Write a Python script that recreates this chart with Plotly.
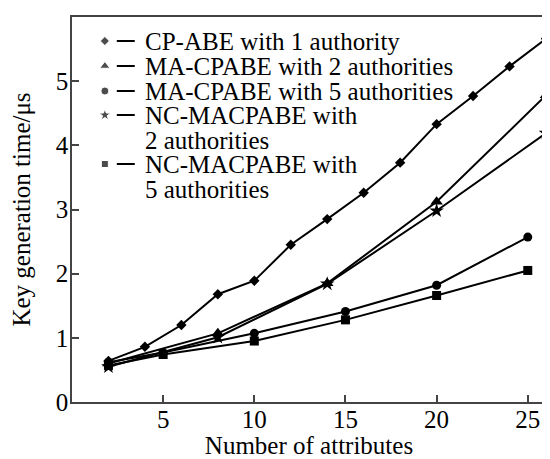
import plotly.graph_objects as go

# ---------------- data ----------------
series_names = [
    "CP-ABE with 1 authority",
    "MA-CPABE with 2 authorities",
    "MA-CPABE with 5 authorities",
    "NC-MACPABE with 2 authorities",
    "NC-MACPABE with 5 authorities",
]
legend_lines = [
    ["CP-ABE with 1 authority"],
    ["MA-CPABE with 2 authorities"],
    ["MA-CPABE with 5 authorities"],
    ["NC-MACPABE with", "2 authorities"],
    ["NC-MACPABE with", "5 authorities"],
]

cp_abe_x = [2, 4, 6, 8, 10, 12, 14, 16, 18, 20, 22, 24, 26]
cp_abe_y = [0.64, 0.86, 1.20, 1.68, 1.89, 2.45, 2.85, 3.26, 3.73, 4.33, 4.77, 5.23, 5.66]

ma2_x = [2, 8, 14, 20, 26]
ma2_y = [0.60, 1.07, 1.85, 3.12, 4.78]

ma5_x = [2, 5, 10, 15, 20, 25]
ma5_y = [0.62, 0.77, 1.07, 1.41, 1.82, 2.57]

nc2_x = [2, 8, 14, 20, 26]
nc2_y = [0.55, 1.01, 1.84, 2.98, 4.19]

nc5_x = [2, 5, 10, 15, 20, 25]
nc5_y = [0.57, 0.74, 0.95, 1.28, 1.66, 2.05]

x_ticks = [5, 10, 15, 20, 25]
y_ticks = [0, 1, 2, 3, 4, 5, 6]

# ---------------- styling ----------------
FONT = "Liberation Serif"
FS = 25
symbols = ["diamond", "triangle-up", "circle", "star", "square"]
msizes = [8, 11, 9, 11, 9]
key_sizes = [7, 9, 8, 9, 7]

xs = [cp_abe_x, ma2_x, ma5_x, nc2_x, nc5_x]
ys = [cp_abe_y, ma2_y, ma5_y, nc2_y, nc5_y]

fig = go.Figure()
for name, x, y, sym, ms in zip(series_names, xs, ys, symbols, msizes):
    fig.add_trace(go.Scatter(
        x=x, y=y, name=name, mode="lines+markers",
        line=dict(color="black", width=2),
        marker=dict(symbol=sym, size=ms, color="black"),
        showlegend=False,
    ))

# page offset of the figure inside the browser (default body margin)
OFF = 8
W, H = 550 - OFF, 459 - OFF
# plot box in screenshot pixels
L, R, T, B = 72, 548, 17, 402

# ---------------- legend (drawn in pixel-like overlay axes) ----------------
key_x = 105
dash_x0, dash_x1 = 117, 135
text_x = 143
row_y = [41, 66, 91, 115, 164]
row_step = 25

fig.add_trace(go.Scatter(
    x=[key_x] * len(symbols), y=row_y, xaxis="x2", yaxis="y2",
    mode="markers", marker=dict(symbol=symbols, size=key_sizes, color="black"),
    showlegend=False, hoverinfo="skip",
))

annotations = []
shapes = []
for lines, ry in zip(legend_lines, row_y):
    shapes.append(dict(type="line", xref="x2", yref="y2",
                       x0=dash_x0, x1=dash_x1, y0=ry, y1=ry,
                       line=dict(color="black", width=2)))
    for i, t in enumerate(lines):
        annotations.append(dict(
            x=text_x, y=ry + i * row_step, xref="x2", yref="y2",
            text=t, showarrow=False, xanchor="left", yanchor="middle",
            font=dict(family=FONT, size=FS, color="black"),
        ))

axis_common = dict(
    ticks="inside", ticklen=7, tickwidth=1.5, tickcolor="#444",
    showgrid=False, zeroline=False, showline=True, linecolor="#444",
    linewidth=1.5, mirror=True, tickfont=dict(family=FONT, size=FS, color="black"),
)

fig.update_layout(
    width=W, height=H,
    margin=dict(l=L - OFF, r=W - (R - OFF), t=T - OFF, b=H - (B - OFF), pad=0),
    paper_bgcolor="white", plot_bgcolor="white",
    font=dict(family=FONT, size=FS, color="black"),
    xaxis=dict(
        range=[0, 26], tickvals=x_ticks, ticklabelstandoff=-6,
        title=dict(text="Number of attributes", standoff=0,
                   font=dict(family=FONT, size=FS, color="black")),
        **axis_common,
    ),
    yaxis=dict(
        range=[0, 6], tickvals=y_ticks, ticklabelstandoff=-3,
        title=dict(text="Key generation time/μs", standoff=20,
                   font=dict(family=FONT, size=FS, color="black")),
        **axis_common,
    ),
    xaxis2=dict(overlaying="x", range=[L, R], visible=False, fixedrange=True),
    yaxis2=dict(overlaying="y", range=[B, T], visible=False, fixedrange=True),
    annotations=annotations,
    shapes=shapes,
)

fig.write_html("out.html")
